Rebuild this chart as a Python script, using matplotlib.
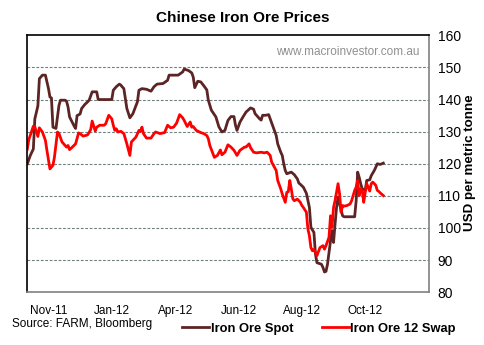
import matplotlib
matplotlib.use("Agg")
import matplotlib.pyplot as plt

# trading days since start of series, and prices (USD per metric tonne)
spot_day = [0, 2, 4, 5, 7, 8, 10, 12, 14, 15, 16, 17, 19, 21, 22, 25, 26, 27, 28, 31,
            32, 33, 35, 36, 38, 40, 41, 43, 46, 47, 56, 57, 59, 61, 62, 63, 64, 65, 66, 68,
            70, 73, 74, 76, 79, 82, 84, 86, 90, 93, 94, 100, 103, 104, 107, 109, 110, 111, 113, 115,
            117, 119, 120, 122, 125, 127, 129, 131, 133, 135, 137, 138, 139, 141, 143, 145, 148, 150, 151, 154,
            155, 156, 158, 160, 161, 163, 165, 166, 168, 169, 170, 171, 172, 175, 177, 179, 180, 181, 183, 185,
            187, 188, 190, 191, 192, 195, 196, 197, 198, 199, 201, 202, 203, 204, 205, 206, 207, 209, 210, 217,
            218, 219, 220, 221, 222, 224, 225, 227, 228, 230, 231, 232, 234, 236]
spot = [120, 122.6, 124.6, 134, 138, 146.5, 147.6, 147.6, 143.5, 140.8, 140.5, 131.4, 131, 138.2, 139.8, 139.8, 139.5, 137.7, 134.6, 131.8,
        131, 135, 135.5, 137.2, 138.4, 139.3, 139.8, 142.4, 142.4, 140, 140, 142.9, 144, 144.8, 144.5, 143.9, 143.4, 140.3, 137.2, 134.3,
        135.6, 139.3, 142.9, 143.4, 143.2, 142.6, 144, 144.8, 145, 146, 147.6, 147.6, 148.6, 149.5, 149, 148.3, 147, 143.7, 145.7, 145.5,
        144.3, 143, 139.8, 136.7, 134.6, 131.5, 129.9, 130.4, 133.5, 134.7, 134.7, 132, 130.4, 133, 134.6, 136.1, 137.4, 137, 135.6, 134,
        133.6, 135.1, 135.1, 135.3, 134, 131.4, 128.8, 126.2, 123.6, 122.6, 120, 117.9, 116.9, 117.4, 116.6, 115.3, 114, 113.6, 112.7, 110.8,
        106.4, 100.2, 98.6, 91.9, 89.2, 88.7, 87.7, 86.3, 86.5, 88.7, 96, 99.2, 95.5, 101.2, 106.4, 109.6, 107.5, 103.8, 103.5, 103.5,
        108.5, 117.4, 115.8, 113.8, 112.2, 111.7, 114.8, 115, 116.3, 117.9, 118.9, 120, 119.8, 120.2]

swap_day = [0, 1, 4, 5, 7, 8, 10, 12, 13, 15, 17, 18, 20, 21, 23, 25, 26, 27, 28, 29,
            32, 34, 35, 37, 40, 42, 43, 45, 46, 48, 51, 52, 54, 56, 57, 58, 59, 60, 62, 64,
            66, 68, 69, 72, 74, 75, 76, 77, 79, 82, 84, 85, 88, 91, 93, 95, 97, 99, 101, 103,
            104, 106, 108, 109, 110, 112, 115, 117, 119, 120, 121, 124, 126, 128, 129, 131, 133, 135, 137, 139,
            141, 144, 145, 147, 148, 150, 152, 155, 157, 159, 161, 162, 165, 166, 168, 169, 171, 172, 173, 174,
            175, 176, 177, 179, 181, 182, 183, 185, 186, 187, 188, 189, 190, 191, 192, 194, 196, 197, 198, 200,
            201, 202, 203, 204, 206, 207, 208, 209, 210, 212, 214, 215, 217, 218, 219, 220, 221, 222, 223, 224,
            225, 227, 228, 229, 231, 232, 233, 234, 236]
swap = [124.6, 127.5, 131.7, 131.5, 128.5, 131.2, 129.9, 127.3, 124.2, 118.4, 119.5, 122.1, 129.9, 129.4, 126.8, 125.7, 125.2, 125.7, 124.4, 124.8,
        126.2, 129.6, 129.4, 128.6, 129, 130.6, 133.3, 130.2, 131.4, 132, 132, 132.5, 135.1, 134, 132, 130.4, 130.9, 129.9, 130.1, 129.4,
        126.2, 122.6, 126.8, 128.3, 130.4, 130.1, 131.4, 129.4, 128, 128, 129.4, 129.9, 129.4, 129.7, 132, 131.2, 131.4, 132.7, 135.3, 134.3,
        133.5, 131.6, 133, 131.4, 131.6, 130.4, 129.7, 129.4, 128.8, 127.8, 125.7, 122, 122.6, 124.3, 122.8, 123.6, 125.9, 125.2, 124.2, 122.6,
        124.2, 125.2, 125.2, 126.2, 125, 123.6, 123.4, 123.6, 123.4, 123.6, 122.6, 120.5, 117.9, 114.8, 112.2, 110.6, 108, 111.1, 111.3, 114.8,
        112.2, 109.1, 108.5, 109, 108, 107, 106.4, 104.9, 99.7, 97.6, 93.9, 92.9, 93.3, 92.4, 91.4, 93.9, 94.5, 93.4, 94.5, 97.1,
        103.8, 100.2, 106.4, 108.5, 113.8, 110.6, 104.9, 107, 106.8, 107, 107.5, 108.5, 111.7, 112.7, 114.8, 110.1, 112.2, 111.8, 108, 111.1,
        113.8, 111.5, 113.8, 114.3, 113.3, 111.7, 111.4, 110.9, 110.1]

tick_days = [14, 56, 98, 140, 182, 224]
tick_labels = ['Nov-11', 'Jan-12', 'Apr-12', 'Jun-12', 'Aug-12', 'Oct-12']

plt.rcParams['font.family'] = ['Liberation Sans', 'DejaVu Sans']

fig = plt.figure(figsize=(4.85, 3.45), dpi=100)
ax = fig.add_axes([0.0563, 0.153, 0.8289, 0.7446])

spot_line, = ax.plot(spot_day, spot, color='#5c2424', lw=2, label='Iron Ore Spot')
swap_line, = ax.plot(swap_day, swap, color='#ff0000', lw=2, label='Iron Ore 12 Swap')

ax.set_xlim(0, 266.5)
ax.set_ylim(80, 160)
ax.set_yticks(range(80, 161, 10))
ax.yaxis.tick_right()
ax.tick_params(axis='y', length=0, pad=6, labelsize=10)
for lab in ax.get_yticklabels():
    lab.set_horizontalalignment('left')
ax.set_xticks(tick_days)
ax.set_xticklabels(tick_labels)
ax.tick_params(axis='x', length=0, pad=9, labelsize=8.5)

for v in range(90, 151, 10):
    ax.axhline(v, color='#708080', lw=0.8, ls=(0, (2.5, 1.5)), zorder=0)

ax.spines['left'].set_color('black')
ax.spines['top'].set_color('black')
ax.spines['right'].set_color('#808080')
ax.spines['bottom'].set_color('#808080')
for s in ax.spines.values():
    s.set_linewidth(1.2)

ax.text(0.975, 0.96, 'www.macroinvestor.com.au', transform=ax.transAxes,
        ha='right', va='top', fontsize=8.5, color='#909090')

fig.text(0.969, 0.527, 'USD per metric tonne', rotation=90, ha='center', va='center',
         fontweight='bold', fontsize=9.6)
fig.text(0.5, 0.935, 'Chinese Iron Ore Prices', ha='center', va='baseline',
         fontsize=11, fontweight='bold')
fig.text(0.025, 0.052, 'Source: FARM, Bloomberg', fontsize=8.5, va='baseline')

fig.legend(handles=[spot_line, swap_line], loc='lower left',
           bbox_to_anchor=(0.365, 0.015), ncol=2, frameon=False,
           prop={'weight': 'bold', 'size': 9.3}, handlelength=2.1,
           handletextpad=0.1, columnspacing=2.2, borderaxespad=0)

fig.savefig('out.png', dpi=100)
